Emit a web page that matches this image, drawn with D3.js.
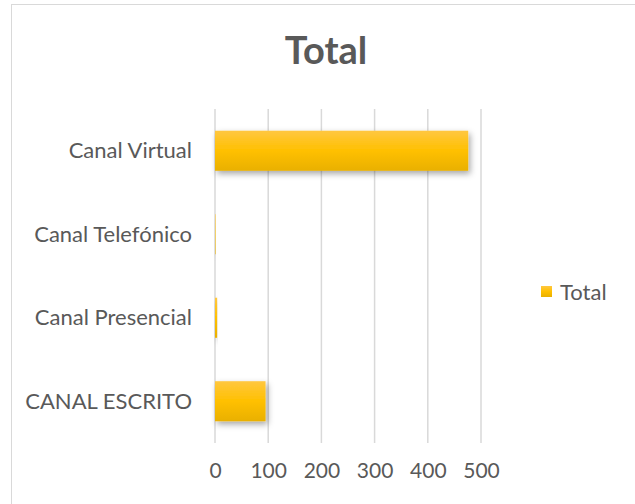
<!DOCTYPE html>
<html><head><meta charset="utf-8">
<script src="https://cdn.jsdelivr.net/npm/d3@7"></script>
<style>body{margin:0;background:#fff;} text{font-family:Lato,"Open Sans",sans-serif;fill:#595959;}</style>
</head><body>
<svg id="c" width="635" height="504"></svg>
<script>
const categories = ["Canal Virtual", "Canal Telefónico", "Canal Presencial", "CANAL ESCRITO"];
const values = [476, 1, 4, 95];
const xTicks = [0, 100, 200, 300, 400, 500];
const seriesName = "Total";

const svg = d3.select("#c");
svg.append("rect").attr("x", 11.5).attr("y", 4.5).attr("width", 640).attr("height", 520)
  .attr("fill", "#fff").attr("stroke", "#d9d9d9").attr("stroke-width", 1);

const defs = svg.append("defs");
const g = defs.append("linearGradient").attr("id", "bg").attr("x1", 0).attr("y1", 0).attr("x2", 0).attr("y2", 1);
g.append("stop").attr("offset", "0%").attr("stop-color", "#ffc740");
g.append("stop").attr("offset", "50%").attr("stop-color", "#ffc000");
g.append("stop").attr("offset", "100%").attr("stop-color", "#e9b000");
const f = defs.append("filter").attr("id", "sh").attr("x", "-20%").attr("y", "-20%").attr("width", "150%").attr("height", "160%");
f.append("feDropShadow").attr("dx", 2).attr("dy", 3).attr("stdDeviation", 3).attr("flood-color", "#000").attr("flood-opacity", 0.35);

const x = d3.scaleLinear().domain([0, 500]).range([215, 481]);
const y = d3.scaleBand().domain(categories).range([109, 443]).paddingInner(0.52).paddingOuter(0.26);

svg.append("g").selectAll("line").data(xTicks).join("line")
  .attr("x1", d => x(d)).attr("x2", d => x(d)).attr("y1", 109).attr("y2", 443)
  .attr("stroke", "#d9d9d9").attr("stroke-width", 1.5);

svg.append("g").selectAll("rect").data(values).join("rect")
  .attr("x", x(0)).attr("y", (d, i) => y(categories[i]))
  .attr("width", d => x(d) - x(0)).attr("height", y.bandwidth())
  .attr("fill", "url(#bg)").attr("filter", "url(#sh)");

const yAxis = d3.axisLeft(y).tickSize(0).tickPadding(23);
const ya = svg.append("g").attr("transform", `translate(${x(0)},0)`).call(yAxis);
ya.select(".domain").remove();
ya.selectAll("text").style("font-size", "22px").attr("fill", "#595959").attr("dy", "0.35em");

const xAxis = d3.axisBottom(x).tickValues(xTicks).tickSize(0).tickPadding(20);
const xa = svg.append("g").attr("transform", `translate(0,443)`).call(xAxis);
xa.select(".domain").remove();
xa.selectAll("text").style("font-size", "21px").attr("fill", "#595959");

svg.append("text").attr("x", 326).attr("y", 64).attr("text-anchor", "middle")
  .style("font-size", "38px").style("font-weight", "bold").text("Total");

svg.append("rect").attr("x", 541).attr("y", 286).attr("width", 11).attr("height", 11).attr("fill", "url(#bg)");
svg.append("text").attr("x", 560).attr("y", 300).style("font-size", "22px").text(seriesName);
</script>
</body></html>
